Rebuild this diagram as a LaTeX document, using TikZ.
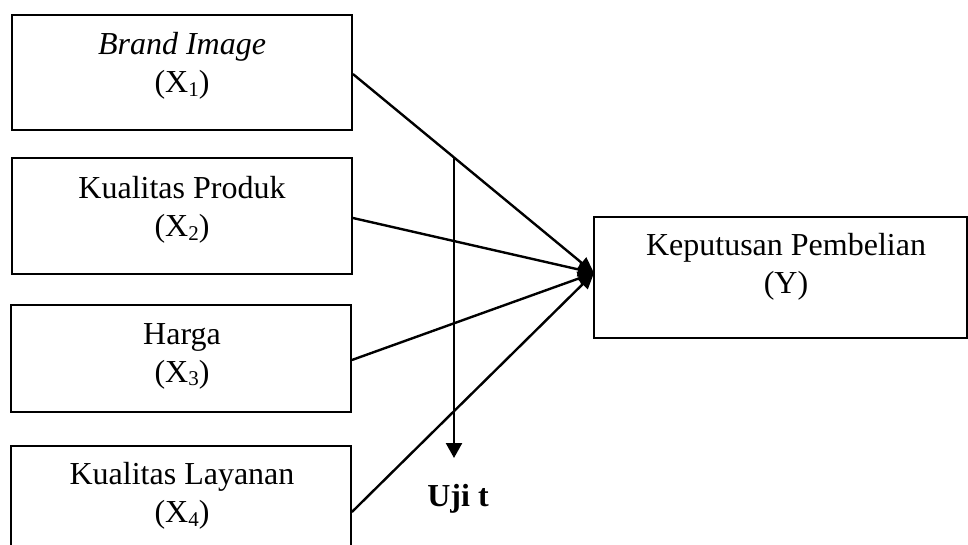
\documentclass[tikz,border=0pt]{standalone}
\usepackage{fontspec}
\setmainfont{Liberation Serif}
\usetikzlibrary{arrows.meta}
\newcommand{\subx}[1]{\raisebox{-0.25ex}{\fontsize{21}{21}\selectfont #1}}
\begin{document}
\begin{tikzpicture}[x=1pt,y=-1pt,
  box/.style={draw, line width=1.8pt, rectangle, inner sep=0pt},
  lbl/.style={align=center, font=\fontsize{32}{38}\selectfont, inner sep=0pt},
  conn/.style={line width=2.4pt, -{Triangle[length=16pt,width=14pt]}},
  arr/.style={line width=2.4pt, -{Triangle[length=15pt,width=16pt]}}]
\useasboundingbox (0,0) rectangle (968,545);
\clip (0,0) rectangle (968,545);
% boxes
\node[box, minimum width=340, minimum height=115] (b1) at (182,72.5) {};
\node[box, minimum width=340, minimum height=116] (b2) at (182,216) {};
\node[box, minimum width=340, minimum height=107] (b3) at (181,358.5) {};
\node[box, minimum width=340, minimum height=130] (b4) at (181,511) {};
\node[box, minimum width=373, minimum height=121] (y) at (780.5,277.5) {};
% labels
\node[lbl] (t1) at (182,66) {\textit{Brand Image}\\(X\subx{1})};
\node[lbl] (t2) at (182,210) {Kualitas Produk\\(X\subx{2})};
\node[lbl] (t3) at (182,356) {Harga\\(X\subx{3})};
\node[lbl] (t4) at (182,496) {Kualitas Layanan\\(X\subx{4})};
\node[lbl] (ty) at (786,267) {Keputusan Pembelian\\(Y)};
\node[lbl, font=\fontsize{32}{38}\selectfont\bfseries] (uji) at (458,499) {Uji t};
% connectors
\coordinate (tip) at (594,273);
\coordinate (s1) at (b1.east |- 0,74);
\coordinate (s2) at (b2.east |- 0,218);
\coordinate (s3) at (b3.east |- 0,360);
\coordinate (s4) at (b4.east |- 0,512);
\draw[conn] (s1) -- (tip);
\draw[conn] (s2) -- (tip);
\draw[conn] (s3) -- (tip);
\draw[conn] (s4) -- (tip);
\coordinate (vtop) at (454,158);
\coordinate (vend) at (454,458);
\draw[arr] (vtop) -- (vend);
\end{tikzpicture}
\end{document}
